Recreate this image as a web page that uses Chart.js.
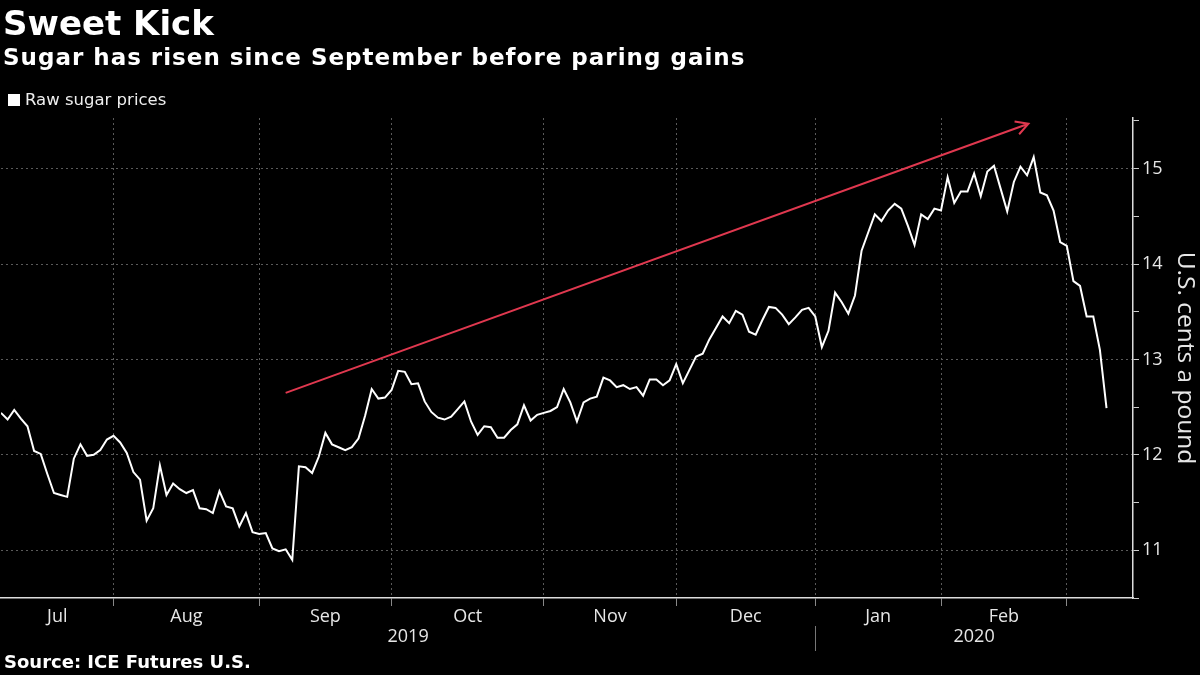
<!DOCTYPE html>
<html>
<head>
<meta charset="utf-8">
<script src="https://cdn.jsdelivr.net/npm/chart.js@4.4.1/dist/chart.umd.min.js"></script>
<style>
html, body { margin: 0; padding: 0; background: #000; }
#wrap { position: relative; width: 1200px; height: 675px; overflow: hidden; background: #000; }
#chart { position: absolute; left: 0; top: 0; }
.txt { position: absolute; color: #fff; white-space: nowrap; }
#title { left: 3px; top: 3px; font: bold 34px "DejaVu Sans", sans-serif; }
#subtitle { left: 3px; top: 44px; font: bold 23px "DejaVu Sans", sans-serif; letter-spacing: 1px; }
#legend { left: 8px; top: 90px; font: 16.5px "DejaVu Sans", sans-serif; color: #eee; }
#legend span { display: inline-block; width: 12px; height: 12px; background: #fff; margin-right: 5px; vertical-align: -1px; }
#source { left: 4px; top: 651px; font: bold 18px "DejaVu Sans", sans-serif; }
</style>
</head>
<body>
<div id="wrap">
  <canvas id="chart" width="1200" height="675"></canvas>
  <div class="txt" id="title">Sweet Kick</div>
  <div class="txt" id="subtitle">Sugar has risen since September before paring gains</div>
  <div class="txt" id="legend"><span></span>Raw sugar prices</div>
  <div class="txt" id="source">Source: ICE Futures U.S.</div>
</div>
<script>
// raw sugar, US cents a pound, one value per trading day (early Jul 2019 - early Mar 2020)
const prices = [
    12.44, 12.37, 12.47, 12.38, 12.30, 12.04, 12.01, 11.80, 11.60, 11.58,
    11.56, 11.96, 12.11, 11.99, 12.00, 12.05, 12.16, 12.20, 12.13, 12.02,
    11.82, 11.74, 11.31, 11.44, 11.89, 11.58, 11.70, 11.64, 11.60, 11.63,
    11.44, 11.43, 11.39, 11.62, 11.46, 11.44, 11.25, 11.39, 11.19, 11.17,
    11.18, 11.02, 10.99, 11.01, 10.90, 11.88, 11.87, 11.81, 11.98, 12.23,
    12.11, 12.08, 12.05, 12.08, 12.17, 12.41, 12.69, 12.59, 12.60, 12.68,
    12.88, 12.87, 12.74, 12.75, 12.56, 12.45, 12.39, 12.37, 12.40, 12.48,
    12.56, 12.35, 12.21, 12.30, 12.29, 12.18, 12.18, 12.26, 12.32, 12.52,
    12.36, 12.42, 12.44, 12.46, 12.50, 12.69, 12.55, 12.35, 12.55, 12.59,
    12.61, 12.81, 12.78, 12.71, 12.73, 12.69, 12.71, 12.62, 12.79, 12.79,
    12.73, 12.78, 12.95, 12.75, 12.89, 13.03, 13.06, 13.21, 13.33, 13.45,
    13.38, 13.51, 13.47, 13.29, 13.26, 13.41, 13.55, 13.54, 13.47, 13.37,
    13.44, 13.52, 13.54, 13.45, 13.13, 13.30, 13.70, 13.60, 13.48, 13.67,
    14.14, 14.33, 14.52, 14.45, 14.56, 14.63, 14.58, 14.40, 14.20, 14.52,
    14.47, 14.58, 14.56, 14.91, 14.64, 14.76, 14.76, 14.95, 14.71, 14.97,
    15.03, 14.79, 14.55, 14.86, 15.02, 14.93, 15.12, 14.75, 14.72, 14.56,
    14.23, 14.19, 13.82, 13.77, 13.45, 13.45, 13.10, 12.49
];

// index of the first trading day of Aug, Sep, Oct, Nov, Dec, Jan, Feb, Mar
const monthStarts = [17, 39, 59, 82, 102, 123, 142, 161];
const monthNames = ["Jul", "Aug", "Sep", "Oct", "Nov", "Dec", "Jan", "Feb"];
const yearNames = ["2019", "2020"];
const yearStarts = [0, 123];
const xMax = 171;

const yTicks = [11, 12, 13, 14, 15];
const yMin = 10.5;
const yMax = 15.53;

// red trend arrow, in (trading day, price)
const trendFrom = [43, 12.65];
const trendTo = [155.2, 15.47];

const lineColor = "#ffffff";
const gridColor = "#5a5a5a";
const textColor = "#e6e6e6";
const arrowColor = "#e0384f";
const axisFont = {family: "'Open Sans', 'DejaVu Sans', sans-serif", size: 18};

// month label sits halfway between two month boundaries
const edges = [0].concat(monthStarts);
const monthMids = monthNames.map((m, i) => (edges[i] + edges[i + 1]) / 2);

const yearLabelsPlugin = {
    id: "yearLabels",
    afterDraw(chart)
    {
        const {ctx, scales: {x}} = chart;
        ctx.save();
        ctx.fillStyle = textColor;
        ctx.font = "18px 'Open Sans', 'DejaVu Sans', sans-serif";
        ctx.textAlign = "center";
        ctx.textBaseline = "middle";
        yearNames.forEach((name, i) => {
            const from = x.getPixelForValue(yearStarts[i]);
            const to = x.getPixelForValue(i + 1 < yearStarts.length ? yearStarts[i + 1] : xMax);
            ctx.fillText(name, (from + to) / 2, 637);
            if (i > 0)
            {
                ctx.strokeStyle = "#777";
                ctx.lineWidth = 1;
                ctx.beginPath();
                ctx.moveTo(Math.round(from) + 0.5, 626);
                ctx.lineTo(Math.round(from) + 0.5, 651);
                ctx.stroke();
            }
        });
        ctx.restore();
    }
};

const trendArrowPlugin = {
    id: "trendArrow",
    afterDatasetsDraw(chart)
    {
        const {ctx, scales: {x, y}} = chart;
        const x1 = x.getPixelForValue(trendFrom[0]), y1 = y.getPixelForValue(trendFrom[1]);
        const x2 = x.getPixelForValue(trendTo[0]), y2 = y.getPixelForValue(trendTo[1]);
        const ang = Math.atan2(y2 - y1, x2 - x1);
        const head = 14;
        ctx.save();
        ctx.strokeStyle = arrowColor;
        ctx.lineWidth = 2;
        ctx.beginPath();
        ctx.moveTo(x1, y1);
        ctx.lineTo(x2, y2);
        ctx.moveTo(x2 - head * Math.cos(ang - 0.5), y2 - head * Math.sin(ang - 0.5));
        ctx.lineTo(x2, y2);
        ctx.lineTo(x2 - head * Math.cos(ang + 0.5), y2 - head * Math.sin(ang + 0.5));
        ctx.stroke();
        ctx.restore();
    }
};

function drawChart(elem)
{
    try
    {
        const config = {
            type: "line",
            data: {
                datasets: [{
                    label: "Raw sugar prices",
                    data: prices.map((v, i) => ({x: i, y: v})),
                    borderColor: lineColor,
                    borderWidth: 2,
                    pointRadius: 0,
                    tension: 0
                }]
            },
            options: {
                responsive: false,
                animation: false,
                layout: {padding: {top: 118, left: 0, right: 0, bottom: 37}},
                plugins: {
                    legend: {display: false},
                    tooltip: {enabled: false}
                },
                scales: {
                    x: {
                        type: "linear",
                        min: 0,
                        max: xMax,
                        afterBuildTicks: (s) => {
                            s.ticks = monthStarts.concat(monthMids)
                                .sort((a, b) => a - b)
                                .map(v => ({value: v}));
                        },
                        afterFit: (s) => { s.height = 40; },
                        ticks: {
                            autoSkip: false,
                            maxRotation: 0,
                            color: textColor,
                            font: axisFont,
                            padding: 0,
                            callback: (v) => {
                                const k = monthMids.indexOf(v);
                                return k >= 0 ? monthNames[k] : "";
                            }
                        },
                        grid: {
                            color: (c) => monthStarts.includes(c.tick && c.tick.value) ? gridColor : "transparent",
                            tickColor: (c) => monthStarts.includes(c.tick && c.tick.value) ? "#888" : "transparent",
                            tickLength: 8,
                            lineWidth: 1
                        },
                        border: {display: true, color: "#dddddd", width: 1.5, dash: [2, 3]}
                    },
                    y: {
                        position: "right",
                        min: yMin,
                        max: yMax,
                        afterBuildTicks: (s) => {
                            const t = [];
                            for (let v = yMin; v <= yTicks[yTicks.length - 1] + 0.5; v += 0.5) t.push({value: v});
                            s.ticks = t;
                        },
                        afterFit: (s) => { s.width = 67; },
                        ticks: {
                            color: textColor,
                            font: axisFont,
                            padding: 3,
                            callback: (v) => yTicks.includes(v) ? String(v) : ""
                        },
                        grid: {
                            color: (c) => yTicks.includes(c.tick && c.tick.value) ? gridColor : "transparent",
                            tickColor: "#cccccc",
                            tickLength: 6,
                            lineWidth: 1
                        },
                        border: {display: true, color: "#dddddd", width: 1.5, dash: [2, 3]},
                        title: {
                            display: true,
                            text: "U.S. cents a pound",
                            color: textColor,
                            font: {family: "'Open Sans', 'DejaVu Sans', sans-serif", size: 24.5},
                            padding: {top: 0, bottom: 2}
                        }
                    }
                }
            },
            plugins: [yearLabelsPlugin, trendArrowPlugin]
        };

        const myChart = new Chart(elem, config);
        myChart.update();
        return true;
    }
    catch (e)
    {
        console.error(e.message);
    }
    return false;
}

drawChart(document.getElementById("chart"));
</script>
</body>
</html>
